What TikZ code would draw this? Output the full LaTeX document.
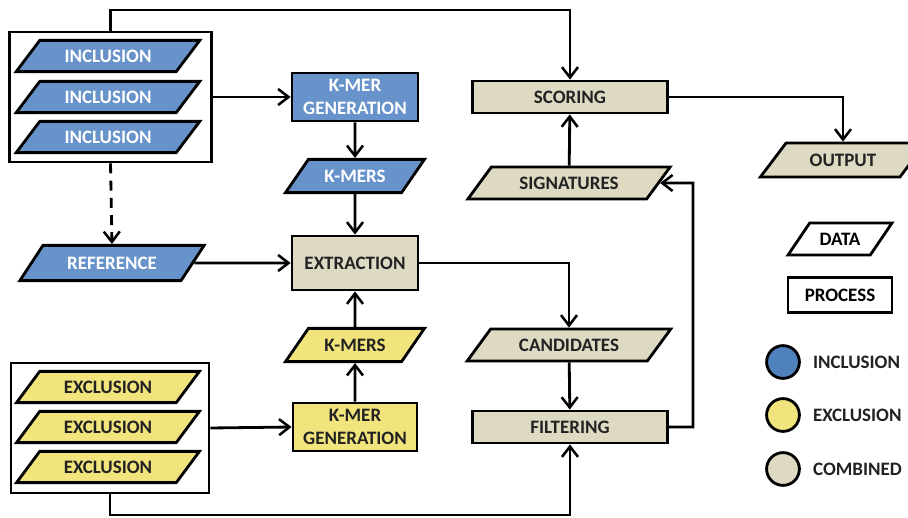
\documentclass[tikz,border=0pt]{standalone}
\usepackage{fontspec}
\setmainfont{Carlito}
\usetikzlibrary{arrows.meta,shapes.geometric,positioning}
\definecolor{incblue}{HTML}{6893CA}
\definecolor{legblue}{HTML}{4F81BD}
\definecolor{excyellow}{HTML}{F2E47C}
\definecolor{combeige}{HTML}{DDD9C3}
\definecolor{inkdark}{HTML}{222222}

\tikzset{
  labelfont/.style={font=\fontsize{13.5}{16}\selectfont\bfseries},
  flow/.style={line width=2pt, -{Straight Barb[length=2.6mm,width=4mm,line width=1.8pt]}},
  datashape/.style={trapezium, trapezium left angle=40, trapezium right angle=140,
    trapezium stretches=true, draw, line width=2pt, inner sep=0pt, labelfont},
  procbox/.style={rectangle, draw, line width=2pt, inner sep=0pt, align=center, labelfont},
  legdot/.style={circle, draw, line width=2pt, minimum size=0.82cm},
  inc/.style={fill=incblue, text=white},
  exc/.style={fill=excyellow, text=inkdark},
  comb/.style={fill=combeige, text=inkdark},
}

\begin{document}
\begin{tikzpicture}[x=0.025cm, y=-0.025cm]
    \useasboundingbox (0,0) rectangle (908,518);

    % Inclusion inputs
    \node[procbox, minimum width=5.03cm, minimum height=3.25cm] (incgroup) at (110.5,97) {};
    \foreach \i/\y in {1/56, 2/97, 3/137}
        \node[datashape, inc, minimum width=4.6cm, minimum height=0.78cm] (inc\i) at (108,\y) {INCLUSION};

    % Exclusion inputs
    \node[procbox, minimum width=4.95cm, minimum height=3.25cm] (excgroup) at (110,428) {};
    \foreach \i/\y in {1/387, 2/427, 3/467}
        \node[datashape, exc, minimum width=4.6cm, minimum height=0.78cm] (exc\i) at (108,\y) {EXCLUSION};

    % Reference genome
    \node[datashape, inc, minimum width=4.63cm, minimum height=0.88cm] (ref) at (112,263) {REFERENCE};

    % K-mer generation and extraction column
    \node[procbox, inc, minimum width=3.15cm, minimum height=1.2cm] (incgen) at (355,97) {K-MER\\GENERATION};
    \node[datashape, inc, minimum width=3.48cm, minimum height=0.83cm] (inckmers) at (355,176) {K-MERS};
    \node[procbox, comb, minimum width=3.15cm, minimum height=1.35cm] (extract) at (355,263) {EXTRACTION};
    \node[datashape, exc, minimum width=3.48cm, minimum height=0.83cm] (exckmers) at (355,345) {K-MERS};
    \node[procbox, exc, minimum width=3.1cm, minimum height=1.2cm] (excgen) at (355,427) {K-MER\\GENERATION};

    % Combined column
    \node[procbox, comb, minimum width=4.88cm, minimum height=0.8cm] (score) at (570,97) {SCORING};
    \node[datashape, comb, minimum width=5.1cm, minimum height=0.8cm] (sig) at (569,183) {SIGNATURES};
    \node[datashape, comb, minimum width=5.1cm, minimum height=0.8cm] (cand) at (569,345) {CANDIDATES};
    \node[procbox, comb, minimum width=4.88cm, minimum height=0.8cm] (filter) at (570,427) {FILTERING};
    \node[datashape, comb, minimum width=4.15cm, minimum height=0.85cm] (output) at (843,160) {OUTPUT};

    % Legend
    \node[datashape, fill=white, minimum width=2.6cm, minimum height=0.8cm] (dataleg) at (840,239) {DATA};
    \node[procbox, fill=white, minimum width=2.6cm, minimum height=0.88cm] (procleg) at (840,295) {PROCESS};
    \node[legdot, fill=legblue] (legi) at (783,362) {};
    \node[legdot, fill=excyellow] (lege) at (783,415) {};
    \node[legdot, fill=combeige] (legc) at (783,469) {};
    \node[labelfont, text=inkdark, inner sep=0pt, right=0.3cm of legi] (legitxt) {INCLUSION};
    \node[labelfont, text=inkdark, inner sep=0pt, right=0.3cm of lege] (legetxt) {EXCLUSION};
    \node[labelfont, text=inkdark, inner sep=0pt, right=0.3cm of legc] (legctxt) {COMBINED};

    % Bends of the long connectors
    \coordinate (topline) at (570,10);
    \coordinate (botline) at (570,515);
    \coordinate (loopright) at (693,183);

    % Connectors
    \draw[flow] (incgroup.east) -- (incgen.west);
    \draw[flow] (incgen) -- (inckmers);
    \draw[flow] (inckmers) -- (extract);
    \draw[flow, dash pattern=on 2.5mm off 1.8mm] (incgroup.south) -- (ref.north);
    \draw[flow] (ref.east) -- (extract.west);
    \draw[flow] (excgroup.east) -- (excgen.west);
    \draw[flow] (excgen) -- (exckmers);
    \draw[flow] (exckmers) -- (extract);
    \draw[flow] (extract.east) -| (cand.north);
    \draw[flow] (cand) -- (filter);
    \draw[flow] (filter.east) -| (loopright) -- (sig.east);
    \draw[flow] (sig) -- (score);
    \draw[flow] (incgroup.north) |- (topline) -- (score.north);
    \draw[flow] (excgroup.south) |- (botline) -- (filter.south);
    \draw[flow] (score.east) -| (output.north);
\end{tikzpicture}
\end{document}
